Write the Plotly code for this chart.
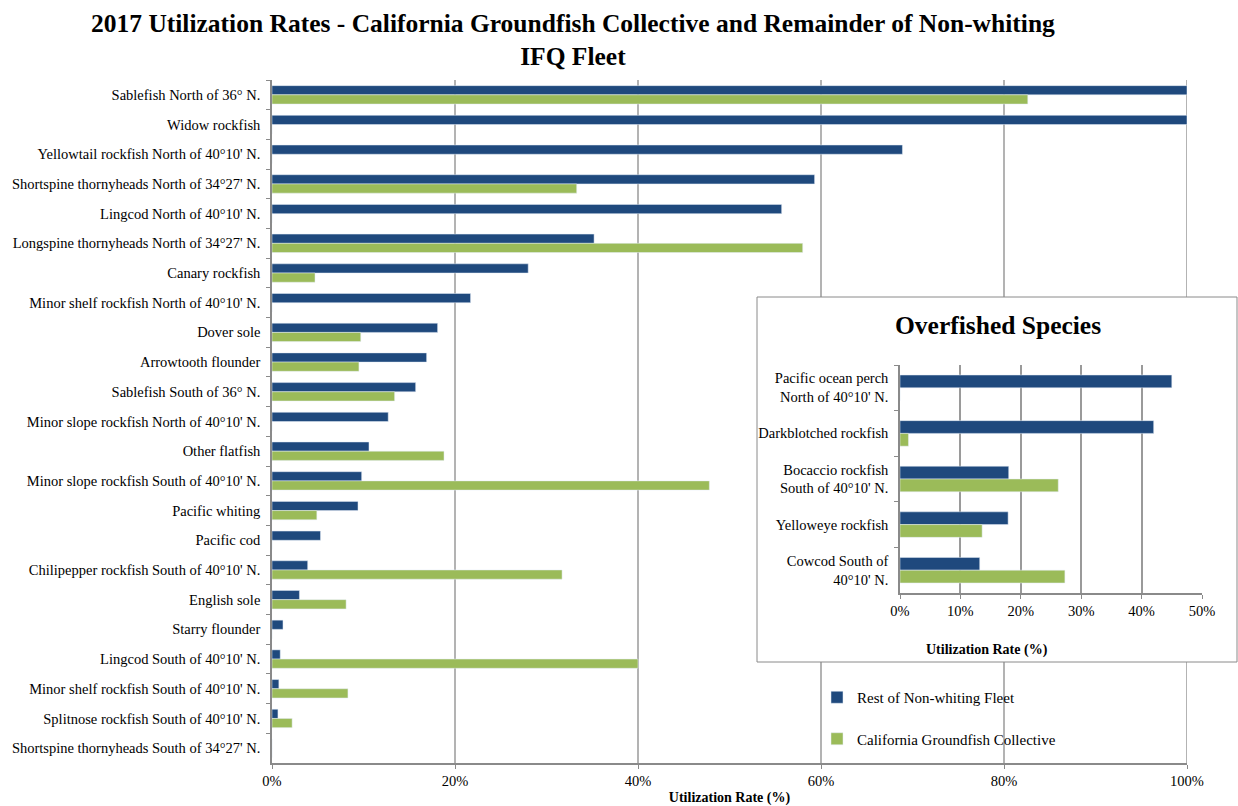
import plotly.graph_objects as go

# ---------------- data ----------------
categories = [
    "Sablefish North of 36° N.",
    "Widow rockfish",
    "Yellowtail rockfish North of 40°10' N.",
    "Shortspine thornyheads North of 34°27' N.",
    "Lingcod North of 40°10' N.",
    "Longspine thornyheads North of 34°27' N.",
    "Canary rockfish",
    "Minor shelf rockfish North of 40°10' N.",
    "Dover sole",
    "Arrowtooth flounder",
    "Sablefish South of 36° N.",
    "Minor slope rockfish North of 40°10' N.",
    "Other flatfish",
    "Minor slope rockfish South of 40°10' N.",
    "Pacific whiting",
    "Pacific cod",
    "Chilipepper rockfish South of 40°10' N.",
    "English sole",
    "Starry flounder",
    "Lingcod South of 40°10' N.",
    "Minor shelf rockfish South of 40°10' N.",
    "Splitnose rockfish South of 40°10' N.",
    "Shortspine thornyheads South of 34°27' N.",
]
rest_fleet = [100, 100, 68.9, 59.3, 55.7, 35.2, 28.0, 21.7, 18.1, 16.9, 15.7, 12.7,
              10.6, 9.8, 9.4, 5.3, 3.9, 3.0, 1.2, 0.9, 0.75, 0.65, 0]
cgc = [82.6, 0, 0, 33.3, 0, 58.0, 4.7, 0, 9.7, 9.5, 13.4, 0,
       18.8, 47.8, 4.9, 0, 31.7, 8.1, 0, 40.0, 8.3, 2.2, 0]

over_categories = [
    "Pacific ocean perch<br>North of 40°10' N.",
    "Darkblotched rockfish",
    "Bocaccio rockfish<br>South of 40°10' N.",
    "Yelloweye rockfish",
    "Cowcod South of<br>40°10' N.",
]
over_rest_fleet = [45.0, 42.0, 18.0, 17.9, 13.2]
over_cgc = [0, 1.4, 26.2, 13.6, 27.3]

main_ticks = [0, 20, 40, 60, 80, 100]
main_tick_labels = ["0%", "20%", "40%", "60%", "80%", "100%"]
inset_ticks = [0, 10, 20, 30, 40, 50]
inset_tick_labels = ["0%", "10%", "20%", "30%", "40%", "50%"]

series_names = ["Rest of Non-whiting Fleet", "California Groundfish Collective"]
title_text = ("2017 Utilization Rates - California Groundfish Collective and Remainder of Non-whiting"
              "<br>IFQ Fleet")
inset_title = "Overfished Species"
axis_title = "Utilization Rate (%)"

# ---------------- style ----------------
W, H = 1238, 806
BLUE = "#1F497D"
GREEN = "#9BBB59"
GRID = "#9a9a9a"
AXIS = "#8a8a8a"
FONT = "Liberation Serif, Times New Roman, serif"
LABEL_SIZE = 14.5

def px_x(p):
    return p / W

def px_y(p):
    return 1 - p / H

main_x_dom = [px_x(272), px_x(1187)]
main_y_dom = [px_y(763), px_y(80)]
inset_x_dom = [px_x(900), px_x(1202)]
inset_y_dom = [px_y(593), px_y(365)]

fig = go.Figure()

bw_main = 0.31
bw_inset = 0.28

fig.add_trace(go.Bar(y=categories, x=rest_fleet, orientation="h", name=series_names[0],
                     marker=dict(color=BLUE), width=bw_main, offset=-bw_main,
                     xaxis="x", yaxis="y", legendgroup="a"))
fig.add_trace(go.Bar(y=categories, x=cgc, orientation="h", name=series_names[1],
                     marker=dict(color=GREEN), width=bw_main, offset=0,
                     xaxis="x", yaxis="y", legendgroup="b"))
fig.add_trace(go.Bar(y=over_categories, x=over_rest_fleet, orientation="h", name=series_names[0],
                     marker=dict(color=BLUE), width=bw_inset, offset=-bw_inset,
                     xaxis="x2", yaxis="y2", showlegend=False, legendgroup="a"))
fig.add_trace(go.Bar(y=over_categories, x=over_cgc, orientation="h", name=series_names[1],
                     marker=dict(color=GREEN), width=bw_inset, offset=0,
                     xaxis="x2", yaxis="y2", showlegend=False, legendgroup="b"))

shapes = []
# main chart gridlines (drawn below the inset box)
for t in main_ticks[1:]:
    shapes.append(dict(type="line", xref="x", yref="paper", x0=t, x1=t,
                       y0=main_y_dom[0], y1=main_y_dom[1],
                       line=dict(color=GRID, width=1.5), layer="below"))
# inset box
shapes.append(dict(type="rect", xref="paper", yref="paper",
                   x0=px_x(757), x1=px_x(1237), y0=px_y(662), y1=px_y(297),
                   fillcolor="white", line=dict(color=AXIS, width=1), layer="below"))

common_axis = dict(automargin=False, showline=True, linecolor=AXIS, linewidth=1.5,
                   ticks="outside", ticklen=4, tickcolor=AXIS,
                   tickfont=dict(size=LABEL_SIZE))

fig.update_layout(
    width=W, height=H,
    autosize=False,
    margin=dict(l=0, r=0, t=0, b=0, pad=0, autoexpand=False),
    paper_bgcolor="white",
    plot_bgcolor="rgba(0,0,0,0)",
    font=dict(family=FONT, size=LABEL_SIZE, color="black"),
    barmode="overlay",
    xaxis=dict(domain=main_x_dom, anchor="y", range=[0, 100], tickmode="array",
               tickvals=main_ticks, ticktext=main_tick_labels,
               showgrid=False, zeroline=False,
               title=dict(text="<b>" + axis_title + "</b>", font=dict(size=14), standoff=4),
               **common_axis),
    yaxis=dict(domain=main_y_dom, anchor="x", type="category", categoryarray=categories,
               autorange="reversed", tickson="boundaries", showgrid=False,
               ticklabelstandoff=7, **common_axis),
    xaxis2=dict(domain=inset_x_dom, anchor="y2", range=[0, 50], tickmode="array",
                tickvals=inset_ticks, ticktext=inset_tick_labels,
                showgrid=True, gridcolor=GRID, gridwidth=1.5, zeroline=False,
                **common_axis),
    yaxis2=dict(domain=inset_y_dom, anchor="x2", type="category", categoryarray=over_categories,
                autorange="reversed", tickson="boundaries", showgrid=False,
                ticklabelstandoff=7, **common_axis),
    shapes=shapes,
    legend=dict(x=px_x(817), y=px_y(681), xanchor="left", yanchor="top",
                bgcolor="rgba(0,0,0,0)", font=dict(size=15), tracegroupgap=19,
                itemwidth=30, traceorder="grouped"),
    annotations=[
        dict(text="<b>" + title_text + "</b>", xref="paper", yref="paper",
             x=px_x(573), y=px_y(7), xanchor="center", yanchor="top", align="center",
             showarrow=False, font=dict(size=25.5)),
        dict(text="<b>" + inset_title + "</b>", xref="paper", yref="paper",
             x=px_x(998), y=px_y(325), xanchor="center", yanchor="middle",
             showarrow=False, font=dict(size=25.5)),
        dict(text="<b>" + axis_title + "</b>", xref="paper", yref="paper",
             x=px_x(987), y=px_y(650), xanchor="center", yanchor="middle",
             showarrow=False, font=dict(size=14)),
    ],
)

fig.write_html("out.html")
